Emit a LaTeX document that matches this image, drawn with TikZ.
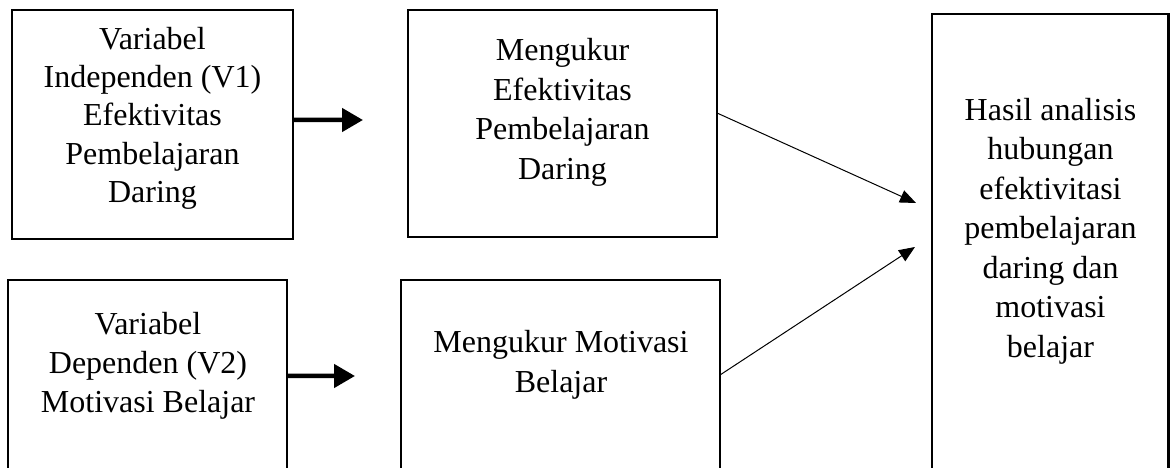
\documentclass[tikz,border=0pt]{standalone}
\usepackage{fontspec}
\setmainfont{Liberation Serif}
\usetikzlibrary{arrows.meta}
\begin{document}
\begin{tikzpicture}[x=1bp,y=-1bp,
  box/.style={draw, line width=2.5bp, rectangle, inner sep=0pt, outer sep=0pt, anchor=north west},
  txt/.style={align=center, inner sep=0pt, anchor=north, font=\fontsize{32bp}{#1}\selectfont, execute at begin node={\rule{0pt}{25bp}}},
  fat/.style={line width=4.5bp, -{Triangle[length=21bp,width=23bp]}},
  thin/.style={line width=1bp, -{Triangle[length=16bp,width=13bp]}}]
\clip (0,0) rectangle (1170,468);
% boxes
\node[box, minimum width=281bp, minimum height=229bp] (b1) at (12,10) {};
\node[box, minimum width=309bp, minimum height=227bp] (b2) at (408,10) {};
\node[box, minimum width=279bp, minimum height=190bp] (b3) at (8,280) {};
\node[box, minimum width=319bp, minimum height=190bp] (b4) at (401,280) {};
\node[box, minimum width=236.5bp, minimum height=456bp] (b5) at (932,14) {};
% texts
\node[txt=38.25bp] (t1) at (152.5,27) {Variabel\\Independen (V1)\\Efektivitas\\Pembelajaran\\Daring};
\node[txt=39.7bp] (t2) at (562.5,38) {Mengukur\\Efektivitas\\Pembelajaran\\Daring};
\node[txt=39bp] (t3) at (148,312) {Variabel\\Dependen (V2)\\Motivasi Belajar};
\node[txt=40bp] (t4) at (561,330) {Mengukur Motivasi\\Belajar};
\node[txt=39.5bp] (t5) at (1050.5,98) {Hasil analisis\\hubungan\\efektivitasi\\pembelajaran\\daring dan\\motivasi\\belajar};
% arrow end points
\coordinate (a1) at (363,120);
\coordinate (a2) at (355,376);
\coordinate (c1) at (916,203);
\coordinate (c2) at (915,247);
% connectors
\draw[fat] ([yshift=4.5bp]b1.east) -- (a1);
\draw[fat] ([yshift=-1bp]b3.east) -- (a2);
\draw[thin] ([yshift=10.5bp]b2.east) -- (c1);
\draw[thin] (b4.east) -- (c2);
\end{tikzpicture}
\end{document}
